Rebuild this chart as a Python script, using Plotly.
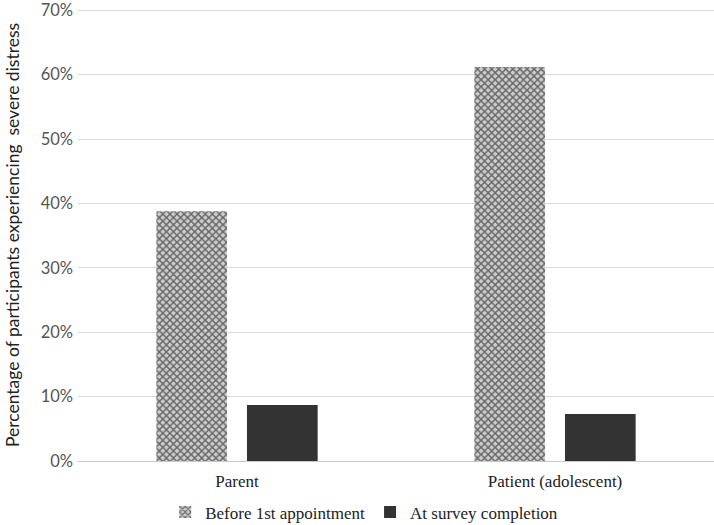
import plotly.graph_objects as go

categories = ["Parent", "Patient (adolescent)"]
before_first = [0.388, 0.612]
at_completion = [0.087, 0.073]
series_names = ["Before 1st appointment", "At survey completion"]
y_ticks = [0, 0.1, 0.2, 0.3, 0.4, 0.5, 0.6, 0.7]
y_ticklabels = ["0%", "10%", "20%", "30%", "40%", "50%", "60%", "70%"]

fig = go.Figure()
fig.add_trace(go.Bar(
    x=categories, y=before_first, name=series_names[0],
    marker=dict(color="#bdbdbd", line=dict(width=0),
                pattern=dict(shape="x", fgcolor="#6a6a6a", bgcolor="#cfcfcf",
                             size=5, solidity=0.5, fillmode="replace")),
))
fig.add_trace(go.Bar(
    x=categories, y=at_completion, name=series_names[1],
    marker=dict(color="#333333", line=dict(width=0)),
))

fig.update_layout(
    width=714, height=525,
    margin=dict(l=78, r=0, t=9, b=64, autoexpand=False),
    paper_bgcolor="white", plot_bgcolor="white",
    barmode="group", bargap=0.43, bargroupgap=0.22,
    showlegend=True,
    legend=dict(orientation="h", x=0.45, xanchor="center", y=-0.074, yanchor="top",
                font=dict(family="Liberation Serif", size=17, color="#222"),
                itemwidth=30, traceorder="normal"),
    xaxis=dict(showgrid=False, showline=True, linecolor="#c8c8c8", linewidth=1,
               automargin=False, ticks="", ticklabelstandoff=5,
               tickfont=dict(family="Liberation Serif", size=17, color="#222")),
    yaxis=dict(range=[0, 0.702], tickvals=y_ticks, ticktext=y_ticklabels,
               showgrid=True, gridcolor="#d9d9d9", gridwidth=1, zeroline=False,
               automargin=False, ticklabeloverflow="allow",
               tickfont=dict(family="Lato", size=16.5, color="#555"),
               ticklabelstandoff=4,
               title=dict(text="Percentage of participants experiencing  severe distress",
                          font=dict(family="Lato", size=17.5, color="#222"), standoff=16)),
)

fig.write_html("out.html", post_script="document.body.style.margin='0';",
               config={"displayModeBar": False})
